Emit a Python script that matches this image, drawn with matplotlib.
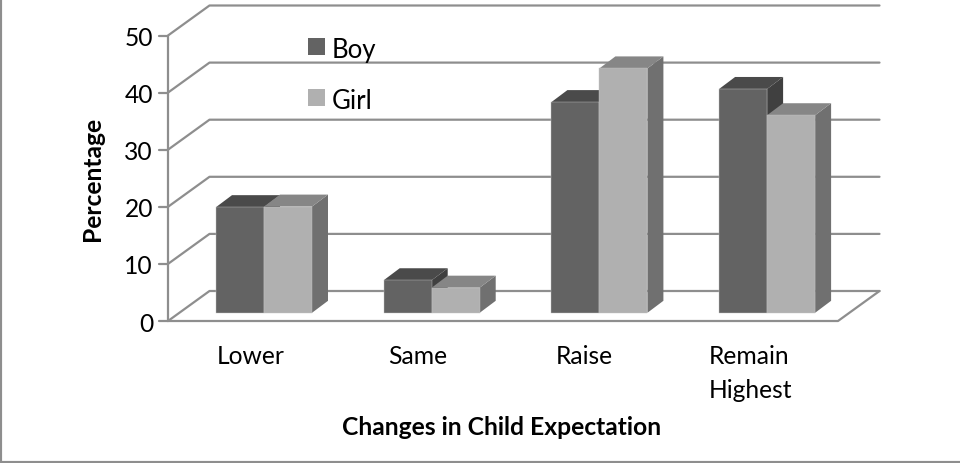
import matplotlib
matplotlib.use('Agg')
import matplotlib.pyplot as plt
from matplotlib.patches import Polygon, Rectangle

categories = ['Lower', 'Same', 'Raise', 'Remain\nHighest']
boy = [18.5, 5.7, 36.9, 39.2]
girl = [18.6, 4.4, 42.8, 34.6]
y_ticks = [0, 10, 20, 30, 40, 50]

plt.rcParams['font.family'] = ['Lato', 'DejaVu Sans']

W, H = 960, 464
PX_X = 167.7  # pixels per category
PX_Y = 5.71   # pixels per percent
X0 = 264      # pixel of first group centre
Y0 = 313.8    # pixel row of the bar baseline
FS = 17.7

fig = plt.figure(figsize=(W / 100, H / 100), dpi=100)
ax = fig.add_axes([0, 0, 1, 1])
ax.set_xlim(-X0 / PX_X, (W - X0) / PX_X)
ax.set_ylim((Y0 - H) / PX_Y, Y0 / PX_Y)
ax.axis('off')

def dx(px):
    return px / PX_X

def dy(px):
    return px / PX_Y

bar_w = dx(48)
side_x, side_y = dx(16), dy(12)

# box: front left corner and depth
left = dx(168 - X0)
front = dy(-8.2)
right = dx(838 - X0)
depth_x, depth_y = dx(41.5), dy(30)
grid_right = right + depth_x
grid = dict(color='#8e8e8e', lw=1.6, solid_capstyle='round', zorder=1)

for t in y_ticks:
    ax.plot([left, left + depth_x, grid_right], [t + front, t + front + depth_y, t + front + depth_y], **grid)
    ax.plot([left - dx(9), left], [t + front, t + front], **grid)
    ax.text(left - dx(15), t + front, str(t), ha='right', va='center_baseline', fontsize=FS, color='black')
ax.plot([left, left], [front, y_ticks[-1] + front], **grid)
ax.plot([left, right, grid_right], [front, front, front + depth_y], **grid)

def draw_bar(x, v, col_front, col_top, col_side, z):
    ax.add_patch(Polygon([(x + bar_w, 0), (x + bar_w + side_x, side_y), (x + bar_w + side_x, v + side_y), (x + bar_w, v)],
                         fc=col_side, ec='none', zorder=z))
    ax.add_patch(Polygon([(x, v), (x + side_x, v + side_y), (x + bar_w + side_x, v + side_y), (x + bar_w, v)],
                         fc=col_top, ec='none', zorder=z))
    ax.add_patch(Rectangle((x, 0), bar_w, v, fc=col_front, ec='#c4c4c4', lw=0.3, zorder=z))

for i, (b, g) in enumerate(zip(boy, girl)):
    draw_bar(i - bar_w, b, '#636363', '#4a4a4a', '#404040', 3 + i)
    draw_bar(i, g, '#b0b0b0', '#868686', '#707070', 3.5 + i)
    ax.text(dx(-13.5 + i * 166.7), dy(Y0 - 345.5), categories[i], ha='center', va='top', ma='left', fontsize=FS,
            linespacing=1.55, color='black')

ax.text(dx(502 - X0), dy(Y0 - 428), 'Changes in Child Expectation', ha='center', va='center', fontsize=FS,
        fontweight='bold')
ax.text(dx(93 - X0), dy(Y0 - 179), 'Percentage', ha='center', va='center', rotation=90, fontsize=FS,
        fontweight='bold')

# legend
for name, col, row in [('Boy', '#636363', 47.5), ('Girl', '#b0b0b0', 98.5)]:
    ax.add_patch(Rectangle((dx(308 - X0), dy(Y0 - row - 8.5)), dx(17), dy(17), fc=col, ec='none', zorder=2))
    ax.text(dx(332 - X0), dy(Y0 - row), name, ha='left', va='center_baseline', fontsize=18.5, color='black', zorder=2)

# only left and bottom edges of the frame are in the picture
border = dict(transform=fig.transFigure, color='#8e8e8e', lw=3)
fig.add_artist(plt.Line2D([0, 0], [0, 1], **border))
fig.add_artist(plt.Line2D([0, 1], [0, 0], **border))

plt.savefig('out.png', dpi=100)
